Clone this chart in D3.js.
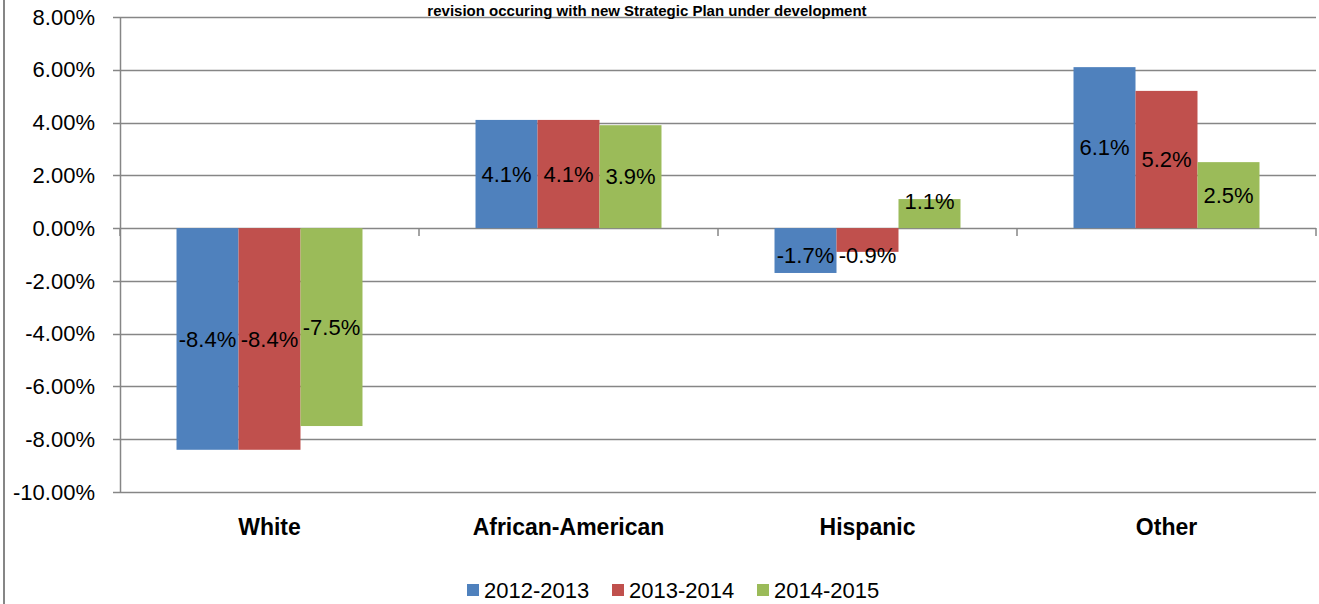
<!DOCTYPE html>
<html>
<head>
<meta charset="utf-8">
<script src="https://cdn.jsdelivr.net/npm/d3@7"></script>
<style>
html,body{margin:0;padding:0;background:#fff;}
svg{display:block;font-family:"Liberation Sans",Arial,sans-serif;}
</style>
</head>
<body>
<svg id="chart" width="1319" height="604"></svg>
<script>
const categories = ["White", "African-American", "Hispanic", "Other"];
const seriesNames = ["2012-2013", "2013-2014", "2014-2015"];
const s2012 = [-8.4, 4.1, -1.7, 6.1];
const s2013 = [-8.4, 4.1, -0.9, 5.2];
const s2014 = [-7.5, 3.9, 1.1, 2.5];
const colors = ["#4F81BD", "#C0504D", "#9BBB59"];
const yTicks = [8, 6, 4, 2, 0, -2, -4, -6, -8, -10];
const title = "revision occuring with new Strategic Plan under development";

const series = [s2012, s2013, s2014];
const svg = d3.select("#chart");
const fmtY = d => d3.format(".2f")(d).replace("\u2212", "-") + "%";
const fmtL = d => d3.format(".1f")(d).replace("\u2212", "-") + "%";

const plot = {left: 120, right: 1316, top: 17, bottom: 492};
const x = d3.scaleBand().domain(categories).range([plot.left, plot.right])
  .paddingInner(0.378).paddingOuter(0.189);
const xs = d3.scaleBand().domain(seriesNames).range([0, x.bandwidth()]);
const y = d3.scaleLinear().domain([-10, 8]).range([plot.bottom, plot.top]);

const grid = "#868686";

// frame line at left
svg.append("line").attr("x1", 4).attr("x2", 4).attr("y1", 0).attr("y2", 604)
  .attr("stroke", grid).attr("stroke-width", 2);

// gridlines
svg.append("g").selectAll("line").data(yTicks).join("line")
  .attr("x1", plot.left - 7).attr("x2", plot.right)
  .attr("y1", d => Math.round(y(d)) + 0.5).attr("y2", d => Math.round(y(d)) + 0.5)
  .attr("stroke", grid).attr("stroke-width", 1.5);

// y axis line
svg.append("line").attr("x1", plot.left + 0.5).attr("x2", plot.left + 0.5)
  .attr("y1", plot.top).attr("y2", plot.bottom)
  .attr("stroke", grid).attr("stroke-width", 1.5);

// y tick labels
svg.append("g").selectAll("text").data(yTicks).join("text")
  .attr("x", 95).attr("y", d => y(d)).attr("dy", "0.35em")
  .attr("text-anchor", "end").attr("font-size", 22).attr("fill", "#000")
  .text(fmtY);

// bars
const groups = svg.append("g").selectAll("g").data(categories).join("g")
  .attr("transform", d => `translate(${x(d)},0)`);

groups.selectAll("rect").data((c, i) => series.map((s, j) => ({name: seriesNames[j], v: s[i], j})))
  .join("rect")
  .attr("x", d => xs(d.name))
  .attr("width", xs.bandwidth())
  .attr("y", d => y(Math.max(0, d.v)))
  .attr("height", d => Math.abs(y(d.v) - y(0)))
  .attr("fill", d => colors[d.j]);

// category tick marks on zero line
const bounds = d3.range(categories.length + 1).map(i => plot.left + i * x.step());
svg.append("g").selectAll("line").data(bounds).join("line")
  .attr("x1", d => d).attr("x2", d => d)
  .attr("y1", y(0)).attr("y2", y(0) + 8)
  .attr("stroke", grid).attr("stroke-width", 1.5);

// data labels
groups.selectAll("text.lbl").data((c, i) => series.map((s, j) => ({name: seriesNames[j], v: s[i], j})))
  .join("text").attr("class", "lbl")
  .attr("x", d => xs(d.name) + xs.bandwidth() / 2)
  .attr("y", d => {
    const mid = (y(d.v) + y(0)) / 2;
    const minOff = 27;
    if (d.v >= 0) return Math.min(mid, y(0) - minOff);
    return Math.max(mid, y(0) + minOff);
  })
  .attr("dy", "0.35em")
  .attr("text-anchor", "middle").attr("font-size", 22).attr("fill", "#000")
  .text(d => fmtL(d.v));

// category labels
svg.append("g").selectAll("text").data(categories).join("text")
  .attr("x", d => x(d) + x.bandwidth() / 2).attr("y", 527).attr("dy", "0.35em")
  .attr("text-anchor", "middle").attr("font-size", 23).attr("font-weight", "bold")
  .text(d => d);

// title
svg.append("text").attr("x", 647).attr("y", 16).attr("text-anchor", "middle")
  .attr("font-size", 15).attr("font-weight", "bold").text(title);

// legend
const legendX = [467, 612, 757];
const leg = svg.append("g").selectAll("g").data(seriesNames).join("g")
  .attr("transform", (d, i) => `translate(${legendX[i]},590)`);
leg.append("rect").attr("x", 0).attr("y", -6).attr("width", 12).attr("height", 12)
  .attr("fill", (d, i) => colors[i]);
leg.append("text").attr("x", 17).attr("y", 0).attr("dy", "0.35em")
  .attr("font-size", 22).text(d => d);
</script>
</body>
</html>
